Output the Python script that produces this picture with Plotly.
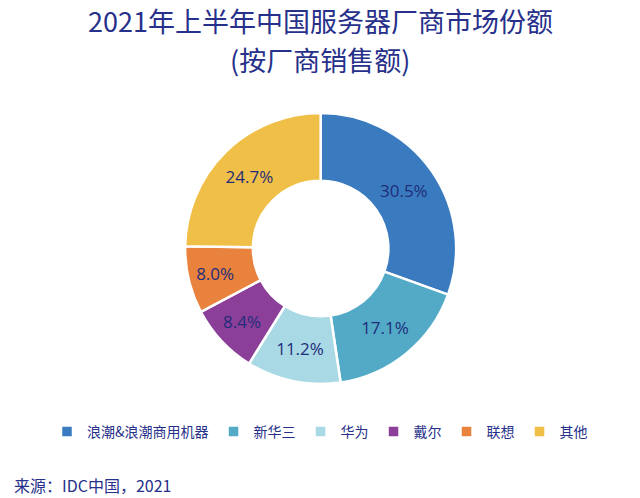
import plotly.graph_objects as go

vendors = ['浪潮&浪潮商用机器', '新华三', '华为', '戴尔', '联想', '其他']
share = [30.5, 17.1, 11.2, 8.4, 8.0, 24.7]
colors = ['#3a7bbf', '#52aac6', '#a9d9e4', '#8c3f98', '#e8823c', '#f0bf47']

navy = '#27308a'
cjk = 'Noto Sans CJK SC, Noto Sans, sans-serif'
W, H = 640, 498


def py(pixel_y):
    # pixel row from the top -> paper fraction
    return 1 - pixel_y / H


fig = go.Figure()
fig.add_trace(go.Pie(
    labels=vendors,
    values=share,
    hole=0.5,
    sort=False,
    direction='clockwise',
    rotation=0,
    domain=dict(x=[0.002, 1], y=[py(384), py(113)]),
    marker=dict(colors=colors, line=dict(color='white', width=2.5)),
    texttemplate='%{value:.1f}%',
    textposition='inside',
    insidetextorientation='horizontal',
    textfont=dict(family='Open Sans, sans-serif', size=17, color='#1f2d7a'),
))

fig.update_layout(
    width=W, height=H,
    margin=dict(l=0, r=0, t=0, b=0),
    paper_bgcolor='white',
    showlegend=True,
    legend=dict(
        orientation='h', x=0.5, xanchor='center',
        y=py(432), yanchor='middle',
        font=dict(family=cjk, size=14, color=navy),
        itemwidth=30,
    ),
    annotations=[
        dict(text='2021年上半年中国服务器厂商市场份额', x=0.5, y=py(20),
             font=dict(family=cjk, size=27, color=navy)),
        dict(text='(按厂商销售额)', x=0.5, y=py(59),
             font=dict(family=cjk, size=27, color=navy)),
        dict(text='来源：IDC中国，2021', x=12 / W, y=py(485), xanchor='left',
             font=dict(family=cjk, size=16, color=navy)),
    ],
)
fig.update_annotations(xref='paper', yref='paper', yanchor='middle', showarrow=False)

fig.write_html('out.html', config={'displayModeBar': False},
               post_script="document.body.style.margin='0';")
